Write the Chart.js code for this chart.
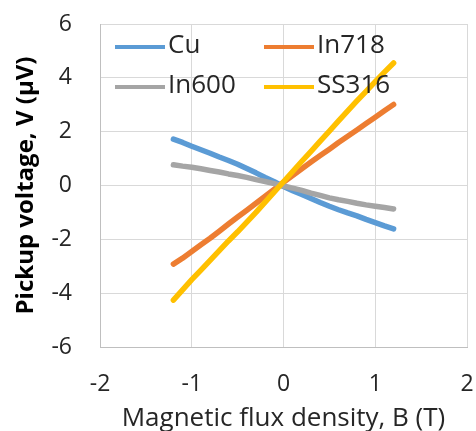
<!DOCTYPE html>
<html>
<head>
<meta charset="utf-8">
<script src="https://cdn.jsdelivr.net/npm/chart.js@4"></script>
<style>
  html, body { margin: 0; padding: 0; background: #fff; }
  #wrap { width: 476px; height: 431px; }
</style>
</head>
<body>
<div id="wrap"><canvas id="fluxChart" width="476" height="431"></canvas></div>
<script>
// Magnetic flux density, B (T)
const fluxB = [-1.2, -1.1, -1.0, -0.9, -0.8, -0.7, -0.6, -0.5, -0.4, -0.3, -0.2, -0.1, 0.0,
               0.1, 0.2, 0.3, 0.4, 0.5, 0.6, 0.7, 0.8, 0.9, 1.0, 1.1, 1.2];

// Pickup voltage (uV) per material
const cuVolts = [1.72, 1.60, 1.46, 1.33, 1.20, 1.06, 0.93, 0.79, 0.63, 0.47, 0.30, 0.14, -0.04,
                 -0.19, -0.33, -0.48, -0.63, -0.77, -0.90, -1.02, -1.13, -1.26, -1.38, -1.50, -1.61];
const in718Volts = [-2.92, -2.70, -2.45, -2.20, -1.96, -1.70, -1.43, -1.17, -0.92, -0.66, -0.40, -0.14, 0.12,
                    0.37, 0.62, 0.87, 1.11, 1.35, 1.60, 1.83, 2.06, 2.30, 2.54, 2.78, 3.01];
const in600Volts = [0.77, 0.72, 0.68, 0.62, 0.56, 0.50, 0.43, 0.37, 0.30, 0.22, 0.15, 0.07, -0.02,
                    -0.10, -0.18, -0.28, -0.37, -0.46, -0.53, -0.59, -0.66, -0.72, -0.77, -0.82, -0.87];
const ss316Volts = [-4.26, -3.88, -3.50, -3.14, -2.78, -2.42, -2.06, -1.72, -1.36, -1.00, -0.62, -0.24, 0.14,
                    0.52, 0.90, 1.27, 1.65, 2.02, 2.40, 2.77, 3.14, 3.50, 3.86, 4.21, 4.55];

const seriesNames = ['Cu', 'In718', 'In600', 'SS316'];
const xTicks = [-2, -1, 0, 1, 2];
const yTicks = [-6, -4, -2, 0, 2, 4, 6];

const FONT = "'Open Sans', sans-serif";
const TEXT = '#262626';

function pairs(ys) {
    return fluxB.map(function(b, i) { return { x: b, y: ys[i] }; });
}

// legend drawn inside the plot, two columns like the original
const insideLegend = {
    id: 'insideLegend',
    afterDraw(chart) {
        const ctx = chart.ctx;
        const area = chart.chartArea;
        ctx.save();
        ctx.font = '26px ' + FONT;
        ctx.fillStyle = TEXT;
        ctx.textBaseline = 'middle';
        chart.data.datasets.forEach(function(ds, i) {
            const col = i % 2;
            const row = Math.floor(i / 2);
            const x = area.left + 15 + col * 149;
            const y = area.top + 23 + row * 40;
            ctx.strokeStyle = ds.borderColor;
            ctx.lineWidth = 4;
            ctx.beginPath();
            ctx.moveTo(x, y);
            ctx.lineTo(x + 50, y);
            ctx.stroke();
            ctx.fillText(ds.label, x + 53, y - 1);
        });
        ctx.restore();
    }
};

new Chart(document.getElementById('fluxChart'), {
    type: 'scatter',
    data: {
        datasets: [
            { label: seriesNames[0], data: pairs(cuVolts), borderColor: '#5B9BD5', order: 3 },
            { label: seriesNames[1], data: pairs(in718Volts), borderColor: '#ED7D31', order: 2 },
            { label: seriesNames[2], data: pairs(in600Volts), borderColor: '#A5A5A5', order: 1 },
            { label: seriesNames[3], data: pairs(ss316Volts), borderColor: '#FFC000', order: 0 }
        ].map(function(ds) {
            return Object.assign(ds, {
                showLine: true,
                borderWidth: 5.5,
                pointRadius: 0,
                borderCapStyle: 'round',
                borderJoinStyle: 'round',
                backgroundColor: ds.borderColor
            });
        })
    },
    options: {
        responsive: false,
        animation: false,
        layout: { padding: { top: 24, right: 9, left: 0, bottom: 0 } },
        plugins: {
            legend: { display: false },
            tooltip: { enabled: false }
        },
        scales: {
            x: {
                type: 'linear',
                min: -2,
                max: 2,
                afterBuildTicks: function(scale) {
                    scale.ticks = xTicks.map(function(v) { return { value: v }; });
                },
                afterFit: function(scale) {
                    scale.height = 84;
                    scale.paddingLeft = 0;
                    scale.paddingRight = 0;
                },
                grid: { color: '#D9D9D9', lineWidth: 1, drawTicks: false },
                border: { color: '#BFBFBF', width: 1 },
                ticks: {
                    padding: 24,
                    color: TEXT,
                    font: { family: FONT, size: 23 },
                    maxRotation: 0
                },
                title: {
                    display: true,
                    text: 'Magnetic flux density, B (T)',
                    color: TEXT,
                    font: { family: FONT, size: 26 },
                    padding: { top: 0, bottom: -3 }
                }
            },
            y: {
                min: -6,
                max: 6,
                afterBuildTicks: function(scale) {
                    scale.ticks = yTicks.map(function(v) { return { value: v }; });
                },
                afterFit: function(scale) {
                    scale.width = 100;
                    scale.paddingTop = 0;
                    scale.paddingBottom = 0;
                },
                grid: { color: '#D9D9D9', lineWidth: 1, drawTicks: false },
                border: { color: '#BFBFBF', width: 1 },
                ticks: {
                    padding: 28,
                    color: TEXT,
                    font: { family: FONT, size: 23 }
                },
                title: {
                    display: true,
                    text: 'Pickup voltage, V (µV)',
                    color: '#000000',
                    font: { family: FONT, size: 24, weight: 'bold' },
                    padding: { top: 12, bottom: 0 }
                }
            }
        }
    },
    plugins: [insideLegend]
});
</script>
</body>
</html>
